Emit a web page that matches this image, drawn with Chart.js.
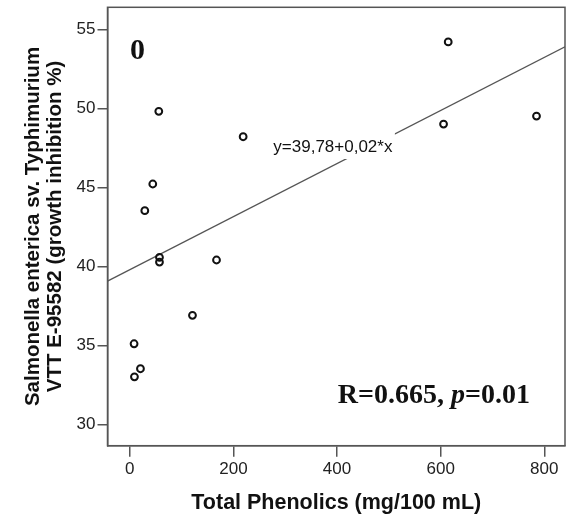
<!DOCTYPE html>
<html>
<head>
<meta charset="utf-8">
<script src="https://cdn.jsdelivr.net/npm/chart.js@4/dist/chart.umd.min.js"></script>
<style>
  html, body { margin: 0; padding: 0; background: #fff; }
  #c { display: block; }
</style>
</head>
<body>
<canvas id="c" width="566" height="519"></canvas>
<script>
// ---- Data ----
const phenolics = [56, 614.6, 605.6, 785, 218.8, 44.4, 29, 57.3, 57.3, 167.4, 121, 8.3, 20.6, 9];
const inhibition = [49.81, 54.2, 49.0, 49.51, 48.2, 45.21, 43.52, 40.57, 40.27, 40.4, 36.9, 35.1, 33.52, 33.01];
// Fitted line y = 39.78 + 0.0168 x, endpoints across the plot
const fitX = [-43, 840];
const fitY = [39.06, 53.89];
const xTicks = [0, 200, 400, 600, 800];
const yTicks = [30, 35, 40, 45, 50, 55];
const equationText = 'y=39,78+0,02*x';
const panelLabel = '0';
const statsParts = [['R=0.665, ', 'bold'], ['p', 'italic bold'], ['=0.01', 'bold']];

const SANS = "'Liberation Sans', Arial, sans-serif";
const SERIF = "'Liberation Serif', 'Times New Roman', serif";
const AXIS = '#555';

const annotations = {
  id: 'annotations',
  afterDatasetsDraw(chart) {
    const { ctx, chartArea: a, scales: { x, y } } = chart;
    ctx.save();
    // equation label with white box over the fit line
    const ex = x.getPixelForValue(392), ey = y.getPixelForValue(47.55);
    ctx.fillStyle = '#fff';
    ctx.fillRect(ex - 64, ey - 16, 126, 28);
    ctx.fillStyle = '#111';
    ctx.font = '17px ' + SANS;
    ctx.textAlign = 'center';
    ctx.textBaseline = 'middle';
    ctx.fillText(equationText, ex, ey);
    // panel label
    ctx.font = 'bold 30px ' + SERIF;
    ctx.fillText(panelLabel, a.left + 30, a.top + 44);
    // stats label
    ctx.textAlign = 'left';
    ctx.textBaseline = 'alphabetic';
    let total = 0;
    const widths = statsParts.map(([t, s]) => { ctx.font = s + ' 28px ' + SERIF; const w = ctx.measureText(t).width; total += w; return w; });
    let sx = a.right - 35 - total;
    const sy = a.bottom - 42.4;
    statsParts.forEach(([t, s], i) => { ctx.font = s + ' 28px ' + SERIF; ctx.fillText(t, sx, sy); sx += widths[i]; });
    // frame
    ctx.strokeStyle = AXIS;
    ctx.lineWidth = 1.5;
    ctx.strokeRect(a.left, a.top, a.right - a.left, a.bottom - a.top);
    ctx.restore();
  }
};

new Chart(document.getElementById('c'), {
  type: 'scatter',
  data: {
    datasets: [
      {
        type: 'scatter',
        data: phenolics.map((v, i) => ({ x: v, y: inhibition[i] })),
        pointRadius: 3.4,
        pointBorderWidth: 2,
        pointBorderColor: '#111',
        pointBackgroundColor: 'rgba(0,0,0,0)',
        order: 0
      },
      {
        type: 'line',
        data: fitX.map((v, i) => ({ x: v, y: fitY[i] })),
        borderColor: '#555',
        borderWidth: 1.3,
        pointRadius: 0,
        fill: false,
        order: 1
      }
    ]
  },
  options: {
    responsive: false,
    animation: false,
    events: [],
    layout: { autoPadding: false, padding: { top: 7.3, right: 1, left: 0, bottom: 0 } },
    plugins: { legend: { display: false }, tooltip: { enabled: false } },
    scales: {
      x: {
        type: 'linear',
        min: -43, max: 840,
        afterBuildTicks: s => { s.ticks = xTicks.map(v => ({ value: v })); },
        afterFit: s => { s.height = 73.3; s.paddingLeft = 0; s.paddingRight = 0; },
        grid: { drawOnChartArea: false, drawTicks: true, tickLength: 11, color: AXIS, lineWidth: 1.5 },
        border: { color: AXIS, width: 1.5 },
        ticks: { color: '#222', font: { family: SANS, size: 17 }, padding: 2, maxRotation: 0 },
        title: { display: true, text: 'Total Phenolics (mg/100 mL)', color: '#111',
                 font: { family: SANS, size: 21.5, weight: 'bold' }, padding: { top: 0, bottom: 3 } }
      },
      y: {
        type: 'linear',
        min: 28.65, max: 56.39,
        afterBuildTicks: s => { s.ticks = yTicks.map(v => ({ value: v })); },
        afterFit: s => { s.width = 107.5; s.paddingTop = 0; s.paddingBottom = 0; },
        grid: { drawOnChartArea: false, drawTicks: true, tickLength: 10, color: AXIS, lineWidth: 1.5 },
        border: { color: AXIS, width: 1.5 },
        ticks: { color: '#222', font: { family: SANS, size: 17 }, padding: 2 },
        title: { display: true, text: ['Salmonella enterica sv. Typhimurium', 'VTT E-95582 (growth inhibition %)'],
                 color: '#111', font: { family: SANS, size: 20.5, weight: 'bold', lineHeight: 1.05 },
                 padding: { top: 22.7, bottom: 0 } }
      }
    }
  },
  plugins: [annotations]
});
</script>
</body>
</html>
